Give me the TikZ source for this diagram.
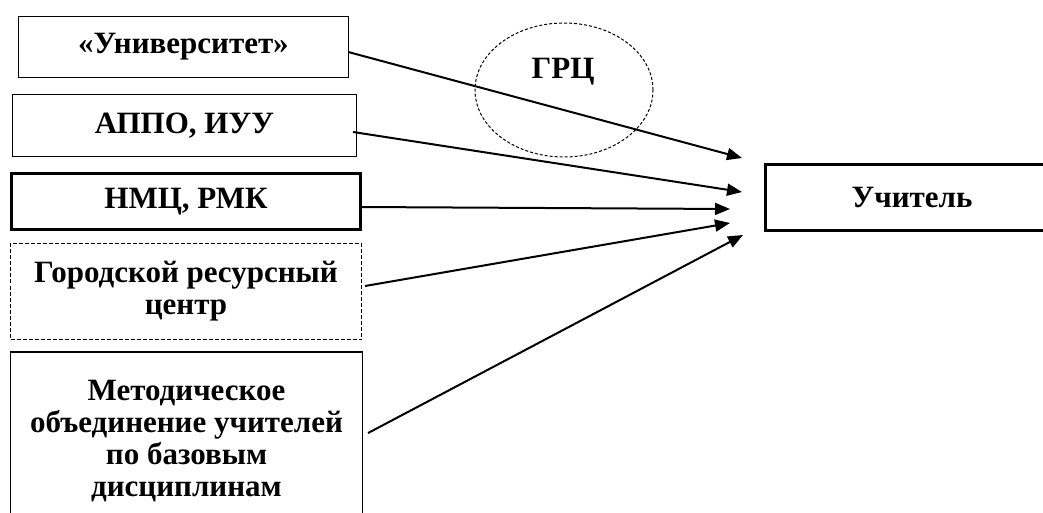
\documentclass[tikz,border=0pt]{standalone}
\usepackage{fontspec}
\setmainfont{Liberation Serif}
\usetikzlibrary{shapes.geometric,arrows.meta}

\tikzset{
  srcbox/.style={draw, rectangle, align=center, inner sep=0pt},
  conn/.style={line width=2pt, -{Triangle[length=15pt,width=12pt]}},
}

\begin{document}
\begin{tikzpicture}[x=1pt, y=-1pt, font=\fontsize{31}{32}\selectfont\bfseries]
			\useasboundingbox (0,0) rectangle (1043,513);
			\clip (0,0) rectangle (1043,513);
			
			%source boxes
			\node[srcbox, line width=1.5pt, minimum width=330pt, minimum height=61pt] (univ) at (183.5,47) {«Университет»};
			\node[srcbox, line width=1pt, minimum width=344pt, minimum height=62pt] (appo) at (184.5,125.5) {АППО, ИУУ};
			\node[srcbox, line width=3pt, minimum width=349pt, minimum height=56pt] (nmc) at (186,201.5) {НМЦ, РМК};
			\node[srcbox, line width=1pt, dash pattern=on 4pt off 2pt, minimum width=351pt, minimum height=96pt] (grc) at (186,291.5) {Городской ресурсный\\центр};
			\node[srcbox, line width=1.2pt, minimum width=352pt, minimum height=178pt] (mo) at (186.5,441) {Методическое\\объединение учителей\\по базовым\\дисциплинам};
			
			%target box
			\node[srcbox, line width=3pt, minimum width=294pt, minimum height=66pt] (teacher) at (912,197.5) {Учитель};
			
			%dashed ellipse
			\node[ellipse, draw, line width=1pt, dash pattern=on 3pt off 2pt, minimum width=178pt, minimum height=134pt] (grcel) at (564,90) {};
			\node (grctext) at (563,72) {ГРЦ};
			
			%arrow ends
			\coordinate (t1) at (742,158);
			\coordinate (t2) at (742,192);
			\coordinate (t3) at (730,209);
			\coordinate (t4) at (730,223);
			\coordinate (t5) at (743,235);
			
			\draw[conn] ([xshift=-1pt,yshift=-5pt]univ.east) -- (t1);
			\draw[conn] ([xshift=-4pt,yshift=-6.5pt]appo.east) -- (t2);
			\draw[conn] ([xshift=-2pt,yshift=-5.5pt]nmc.east) -- (t3);
			\draw[conn] ([xshift=3pt,yshift=5.5pt]grc.east) -- (t4);
			\draw[conn] ([xshift=5pt,yshift=8pt]mo.east) -- (t5);
		\end{tikzpicture}
\end{document}
